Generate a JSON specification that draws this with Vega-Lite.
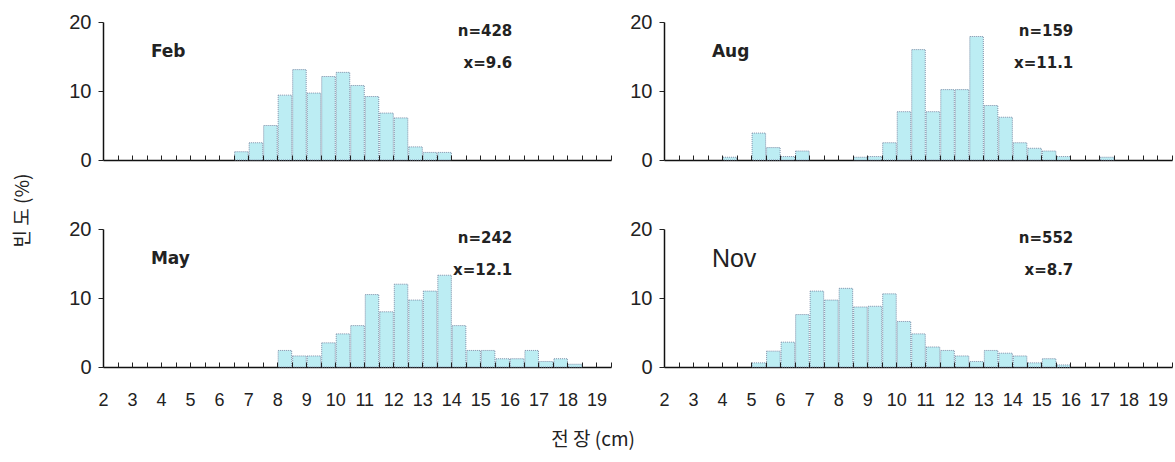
{
  "$schema": "https://vega.github.io/schema/vega-lite/v6.json",
  "background": "white",
  "padding": {"left": 13, "top": 12, "right": 0, "bottom": 0},
  "config": {
    "view": {"stroke": null},
    "font": "Liberation Sans",
    "axisX": {"title": null, "grid": false, "domainColor": "#111", "domainWidth": 1.5, "ticks": false, "labelFont": "Liberation Sans", "labelFontSize": 18, "labelColor": "#222", "labelFlush": false, "labelOverlap": false},
    "axisY": {"title": null, "grid": false, "domainColor": "#111", "domainWidth": 1.5, "tickSize": 5, "tickColor": "#222", "labelFont": "Liberation Sans", "labelFontSize": 20, "labelPadding": 7, "labelColor": "#222"},
    "bar": {"fill": "#bcedf3", "stroke": "#7f8ea8", "strokeWidth": 1, "strokeDash": [1, 1], "binSpacing": 1},
    "text": {"color": "#222"}
  },
  "datasets": {
    "notes": [
      {"m": "Feb", "name": "Feb", "nt": "n=428", "xt": "x=9.6"},
      {"m": "Aug", "name": "Aug", "nt": "n=159", "xt": "x=11.1"},
      {"m": "May", "name": "May", "nt": "n=242", "xt": "x=12.1"},
      {"m": "Nov", "name": "Nov", "nt": "n=552", "xt": "x=8.7"}
    ],
    "bars": [
      {"m": "Feb", "len": 6.5, "pct": 1.2},
      {"m": "Feb", "len": 7.0, "pct": 2.5},
      {"m": "Feb", "len": 7.5, "pct": 5.0},
      {"m": "Feb", "len": 8.0, "pct": 9.4},
      {"m": "Feb", "len": 8.5, "pct": 13.1},
      {"m": "Feb", "len": 9.0, "pct": 9.7},
      {"m": "Feb", "len": 9.5, "pct": 12.1},
      {"m": "Feb", "len": 10.0, "pct": 12.7},
      {"m": "Feb", "len": 10.5, "pct": 10.8},
      {"m": "Feb", "len": 11.0, "pct": 9.2},
      {"m": "Feb", "len": 11.5, "pct": 6.8},
      {"m": "Feb", "len": 12.0, "pct": 6.1},
      {"m": "Feb", "len": 12.5, "pct": 1.9},
      {"m": "Feb", "len": 13.0, "pct": 1.1},
      {"m": "Feb", "len": 13.5, "pct": 1.1},
      {"m": "Aug", "len": 4.0, "pct": 0.4},
      {"m": "Aug", "len": 5.0, "pct": 3.9},
      {"m": "Aug", "len": 5.5, "pct": 1.8},
      {"m": "Aug", "len": 6.0, "pct": 0.5},
      {"m": "Aug", "len": 6.5, "pct": 1.3},
      {"m": "Aug", "len": 8.5, "pct": 0.4},
      {"m": "Aug", "len": 9.0, "pct": 0.5},
      {"m": "Aug", "len": 9.5, "pct": 2.5},
      {"m": "Aug", "len": 10.0, "pct": 7.0},
      {"m": "Aug", "len": 10.5, "pct": 16.0},
      {"m": "Aug", "len": 11.0, "pct": 7.0},
      {"m": "Aug", "len": 11.5, "pct": 10.2},
      {"m": "Aug", "len": 12.0, "pct": 10.2},
      {"m": "Aug", "len": 12.5, "pct": 17.9},
      {"m": "Aug", "len": 13.0, "pct": 7.9},
      {"m": "Aug", "len": 13.5, "pct": 6.2},
      {"m": "Aug", "len": 14.0, "pct": 2.5},
      {"m": "Aug", "len": 14.5, "pct": 1.7},
      {"m": "Aug", "len": 15.0, "pct": 1.3},
      {"m": "Aug", "len": 15.5, "pct": 0.5},
      {"m": "Aug", "len": 17.0, "pct": 0.4},
      {"m": "May", "len": 8.0, "pct": 2.4},
      {"m": "May", "len": 8.5, "pct": 1.6},
      {"m": "May", "len": 9.0, "pct": 1.6},
      {"m": "May", "len": 9.5, "pct": 3.5},
      {"m": "May", "len": 10.0, "pct": 4.8},
      {"m": "May", "len": 10.5, "pct": 6.0},
      {"m": "May", "len": 11.0, "pct": 10.5},
      {"m": "May", "len": 11.5, "pct": 8.0},
      {"m": "May", "len": 12.0, "pct": 12.0},
      {"m": "May", "len": 12.5, "pct": 9.7},
      {"m": "May", "len": 13.0, "pct": 11.0},
      {"m": "May", "len": 13.5, "pct": 13.3},
      {"m": "May", "len": 14.0, "pct": 6.0},
      {"m": "May", "len": 14.5, "pct": 2.4},
      {"m": "May", "len": 15.0, "pct": 2.4},
      {"m": "May", "len": 15.5, "pct": 1.2},
      {"m": "May", "len": 16.0, "pct": 1.2},
      {"m": "May", "len": 16.5, "pct": 2.4},
      {"m": "May", "len": 17.0, "pct": 0.8},
      {"m": "May", "len": 17.5, "pct": 1.2},
      {"m": "May", "len": 18.0, "pct": 0.4},
      {"m": "Nov", "len": 5.0, "pct": 0.6},
      {"m": "Nov", "len": 5.5, "pct": 2.3},
      {"m": "Nov", "len": 6.0, "pct": 3.6},
      {"m": "Nov", "len": 6.5, "pct": 7.6},
      {"m": "Nov", "len": 7.0, "pct": 11.0},
      {"m": "Nov", "len": 7.5, "pct": 9.7},
      {"m": "Nov", "len": 8.0, "pct": 11.4},
      {"m": "Nov", "len": 8.5, "pct": 8.7},
      {"m": "Nov", "len": 9.0, "pct": 8.8},
      {"m": "Nov", "len": 9.5, "pct": 10.6},
      {"m": "Nov", "len": 10.0, "pct": 6.6},
      {"m": "Nov", "len": 10.5, "pct": 4.8},
      {"m": "Nov", "len": 11.0, "pct": 2.9},
      {"m": "Nov", "len": 11.5, "pct": 2.4},
      {"m": "Nov", "len": 12.0, "pct": 1.6},
      {"m": "Nov", "len": 12.5, "pct": 0.8},
      {"m": "Nov", "len": 13.0, "pct": 2.4},
      {"m": "Nov", "len": 13.5, "pct": 2.0},
      {"m": "Nov", "len": 14.0, "pct": 1.6},
      {"m": "Nov", "len": 14.5, "pct": 0.6},
      {"m": "Nov", "len": 15.0, "pct": 1.2},
      {"m": "Nov", "len": 15.5, "pct": 0.3}
    ]
  },
  "title": {"text": "전 장 (cm)", "orient": "bottom", "anchor": "middle", "font": "Noto Sans CJK KR", "fontSize": 19, "fontWeight": "normal", "color": "#222", "offset": 22},
  "vconcat": [
    {
      "title": {"text": "빈 도 (%)", "orient": "left", "anchor": "middle", "font": "Noto Sans CJK KR", "fontSize": 19, "fontWeight": "normal", "color": "#222", "offset": 36},
      "spacing": 49,
      "vconcat": [
        {
          "spacing": 17,
          "hconcat": [
            {
              "width": 508, "height": 138,
              "resolve": {"axis": {"x": "independent"}},
              "layer": [
                {"data": {"name": "bars"}, "transform": [{"filter": "datum.m == 'Feb'"}], "mark": "bar",
                 "encoding": {
                   "x": {"field": "len", "type": "quantitative", "bin": {"binned": true, "step": 0.5}, "scale": {"domain": [2, 19.5], "nice": false, "zero": false}, "axis": {"orient": "bottom", "values": [2, 3, 4, 5, 6, 7, 8, 9, 10, 11, 12, 13, 14, 15, 16, 17, 18, 19], "format": "d", "labels": false}},
                   "y": {"field": "pct", "type": "quantitative", "scale": {"domain": [0, 20], "nice": false}, "axis": {"values": [0, 10, 20]}}}},
                {"data": {"name": "notes"}, "transform": [{"filter": "datum.m == 'Feb'"}],
                 "mark": {"type": "text", "align": "left", "baseline": "middle", "font": "DejaVu Sans", "fontWeight": "bold", "fontSize": 17},
                 "encoding": {"x": {"datum": 3.65, "axis": {"orient": "top", "offset": -138, "domain": false, "labels": false, "ticks": true, "tickSize": 5, "tickColor": "#222", "zindex": 1, "values": [2.5, 3, 3.5, 4, 4.5, 5, 5.5, 6, 6.5, 7, 7.5, 8, 8.5, 9, 9.5, 10, 10.5, 11, 11.5, 12, 12.5, 13, 13.5, 14, 14.5, 15, 15.5, 16, 16.5, 17, 17.5, 18, 18.5, 19, 19.5]}}, "y": {"datum": 15.6}, "text": {"field": "name"}}},
                {"data": {"name": "notes"}, "transform": [{"filter": "datum.m == 'Feb'"}],
                 "mark": {"type": "text", "align": "right", "baseline": "middle", "font": "DejaVu Sans", "fontWeight": "bold", "fontSize": 15},
                 "encoding": {"x": {"datum": 16.1, "axis": null}, "y": {"datum": 18.7}, "text": {"field": "nt"}}},
                {"data": {"name": "notes"}, "transform": [{"filter": "datum.m == 'Feb'"}],
                 "mark": {"type": "text", "align": "right", "baseline": "middle", "font": "DejaVu Sans", "fontWeight": "bold", "fontSize": 15},
                 "encoding": {"x": {"datum": 16.1, "axis": null}, "y": {"datum": 14.0}, "text": {"field": "xt"}}}
              ]
            },
            {
              "width": 508, "height": 138,
              "resolve": {"axis": {"x": "independent"}},
              "layer": [
                {"data": {"name": "bars"}, "transform": [{"filter": "datum.m == 'Aug'"}], "mark": "bar",
                 "encoding": {
                   "x": {"field": "len", "type": "quantitative", "bin": {"binned": true, "step": 0.5}, "scale": {"domain": [2, 19.5], "nice": false, "zero": false}, "axis": {"orient": "bottom", "values": [2, 3, 4, 5, 6, 7, 8, 9, 10, 11, 12, 13, 14, 15, 16, 17, 18, 19], "format": "d", "labels": false}},
                   "y": {"field": "pct", "type": "quantitative", "scale": {"domain": [0, 20], "nice": false}, "axis": {"values": [0, 10, 20]}}}},
                {"data": {"name": "notes"}, "transform": [{"filter": "datum.m == 'Aug'"}],
                 "mark": {"type": "text", "align": "left", "baseline": "middle", "font": "DejaVu Sans", "fontWeight": "bold", "fontSize": 17},
                 "encoding": {"x": {"datum": 3.65, "axis": {"orient": "top", "offset": -138, "domain": false, "labels": false, "ticks": true, "tickSize": 5, "tickColor": "#222", "zindex": 1, "values": [2.5, 3, 3.5, 4, 4.5, 5, 5.5, 6, 6.5, 7, 7.5, 8, 8.5, 9, 9.5, 10, 10.5, 11, 11.5, 12, 12.5, 13, 13.5, 14, 14.5, 15, 15.5, 16, 16.5, 17, 17.5, 18, 18.5, 19, 19.5]}}, "y": {"datum": 15.6}, "text": {"field": "name"}}},
                {"data": {"name": "notes"}, "transform": [{"filter": "datum.m == 'Aug'"}],
                 "mark": {"type": "text", "align": "right", "baseline": "middle", "font": "DejaVu Sans", "fontWeight": "bold", "fontSize": 15},
                 "encoding": {"x": {"datum": 16.1, "axis": null}, "y": {"datum": 18.7}, "text": {"field": "nt"}}},
                {"data": {"name": "notes"}, "transform": [{"filter": "datum.m == 'Aug'"}],
                 "mark": {"type": "text", "align": "right", "baseline": "middle", "font": "DejaVu Sans", "fontWeight": "bold", "fontSize": 15},
                 "encoding": {"x": {"datum": 16.1, "axis": null}, "y": {"datum": 14.0}, "text": {"field": "xt"}}}
              ]
            }
          ]
        },
        {
          "spacing": 17,
          "hconcat": [
            {
              "width": 508, "height": 138,
              "resolve": {"axis": {"x": "independent"}},
              "layer": [
                {"data": {"name": "bars"}, "transform": [{"filter": "datum.m == 'May'"}], "mark": "bar",
                 "encoding": {
                   "x": {"field": "len", "type": "quantitative", "bin": {"binned": true, "step": 0.5}, "scale": {"domain": [2, 19.5], "nice": false, "zero": false}, "axis": {"orient": "bottom", "values": [2, 3, 4, 5, 6, 7, 8, 9, 10, 11, 12, 13, 14, 15, 16, 17, 18, 19], "format": "d", "labelPadding": 24}},
                   "y": {"field": "pct", "type": "quantitative", "scale": {"domain": [0, 20], "nice": false}, "axis": {"values": [0, 10, 20]}}}},
                {"data": {"name": "notes"}, "transform": [{"filter": "datum.m == 'May'"}],
                 "mark": {"type": "text", "align": "left", "baseline": "middle", "font": "DejaVu Sans", "fontWeight": "bold", "fontSize": 17},
                 "encoding": {"x": {"datum": 3.65, "axis": {"orient": "top", "offset": -138, "domain": false, "labels": false, "ticks": true, "tickSize": 5, "tickColor": "#222", "zindex": 1, "values": [2.5, 3, 3.5, 4, 4.5, 5, 5.5, 6, 6.5, 7, 7.5, 8, 8.5, 9, 9.5, 10, 10.5, 11, 11.5, 12, 12.5, 13, 13.5, 14, 14.5, 15, 15.5, 16, 16.5, 17, 17.5, 18, 18.5, 19, 19.5]}}, "y": {"datum": 15.6}, "text": {"field": "name"}}},
                {"data": {"name": "notes"}, "transform": [{"filter": "datum.m == 'May'"}],
                 "mark": {"type": "text", "align": "right", "baseline": "middle", "font": "DejaVu Sans", "fontWeight": "bold", "fontSize": 15},
                 "encoding": {"x": {"datum": 16.1, "axis": null}, "y": {"datum": 18.7}, "text": {"field": "nt"}}},
                {"data": {"name": "notes"}, "transform": [{"filter": "datum.m == 'May'"}],
                 "mark": {"type": "text", "align": "right", "baseline": "middle", "font": "DejaVu Sans", "fontWeight": "bold", "fontSize": 15},
                 "encoding": {"x": {"datum": 16.1, "axis": null}, "y": {"datum": 14.0}, "text": {"field": "xt"}}}
              ]
            },
            {
              "width": 508, "height": 138,
              "resolve": {"axis": {"x": "independent"}},
              "layer": [
                {"data": {"name": "bars"}, "transform": [{"filter": "datum.m == 'Nov'"}], "mark": "bar",
                 "encoding": {
                   "x": {"field": "len", "type": "quantitative", "bin": {"binned": true, "step": 0.5}, "scale": {"domain": [2, 19.5], "nice": false, "zero": false}, "axis": {"orient": "bottom", "values": [2, 3, 4, 5, 6, 7, 8, 9, 10, 11, 12, 13, 14, 15, 16, 17, 18, 19], "format": "d", "labelPadding": 24}},
                   "y": {"field": "pct", "type": "quantitative", "scale": {"domain": [0, 20], "nice": false}, "axis": {"values": [0, 10, 20]}}}},
                {"data": {"name": "notes"}, "transform": [{"filter": "datum.m == 'Nov'"}],
                 "mark": {"type": "text", "align": "left", "baseline": "middle", "font": "Liberation Sans", "fontSize": 25},
                 "encoding": {"x": {"datum": 3.65, "axis": {"orient": "top", "offset": -138, "domain": false, "labels": false, "ticks": true, "tickSize": 5, "tickColor": "#222", "zindex": 1, "values": [2.5, 3, 3.5, 4, 4.5, 5, 5.5, 6, 6.5, 7, 7.5, 8, 8.5, 9, 9.5, 10, 10.5, 11, 11.5, 12, 12.5, 13, 13.5, 14, 14.5, 15, 15.5, 16, 16.5, 17, 17.5, 18, 18.5, 19, 19.5]}}, "y": {"datum": 15.6}, "text": {"field": "name"}}},
                {"data": {"name": "notes"}, "transform": [{"filter": "datum.m == 'Nov'"}],
                 "mark": {"type": "text", "align": "right", "baseline": "middle", "font": "DejaVu Sans", "fontWeight": "bold", "fontSize": 15},
                 "encoding": {"x": {"datum": 16.1, "axis": null}, "y": {"datum": 18.7}, "text": {"field": "nt"}}},
                {"data": {"name": "notes"}, "transform": [{"filter": "datum.m == 'Nov'"}],
                 "mark": {"type": "text", "align": "right", "baseline": "middle", "font": "DejaVu Sans", "fontWeight": "bold", "fontSize": 15},
                 "encoding": {"x": {"datum": 16.1, "axis": null}, "y": {"datum": 14.0}, "text": {"field": "xt"}}}
              ]
            }
          ]
        }
      ]
    }
  ]
}
